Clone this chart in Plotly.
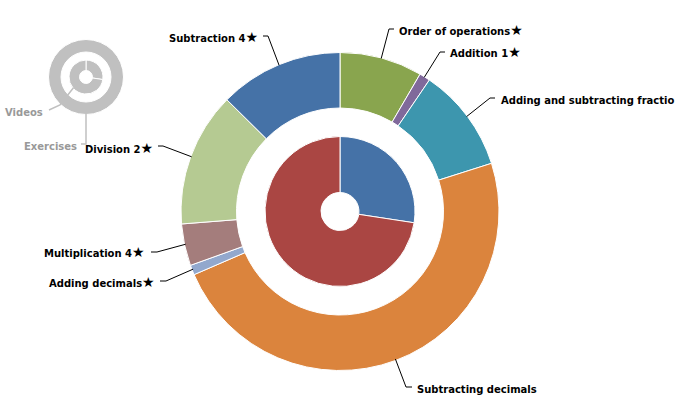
import math
import plotly.graph_objects as go

W, H = 682, 412

# outer ring, clockwise from the top
topics = ['Order of operations★', 'Addition 1★', 'Adding and subtracting fractio', 'Subtracting decimals',
          'Adding decimals★', 'Multiplication 4★', 'Division 2★', 'Subtraction 4★']
topic_values = [8.4, 1.1, 10.6, 48.4, 1.0, 4.25, 13.65, 12.6]
topic_colors = ['#89A54E', '#80699B', '#3D96AE', '#DB843D', '#92A8CD', '#A47D7C', '#B5CA92', '#4572A7']

# inner ring
kinds = ['Exercises', 'Videos']
kind_values = [27.4, 72.6]
kind_colors = ['#4572A7', '#AA4643']

# small grey copy
mini_outer_labels = ['Exercises']
mini_outer_values = [100]
GREY = '#C0C0C0'

# label placement: text x, text y, anchor, elbow x, elbow y, stub end x
label_pos = [
    (397, 30, 'left', 389, 29, 394),
    (448, 52, 'left', 440, 52, 445),
    (499, 100, 'left', 490, 98, 495),
    (415, 389, 'left', 406, 387, 412),
    (157, 282, 'right', 166, 281, 160),
    (147, 252, 'right', 157, 252, 151),
    (155, 148, 'right', 163, 146, 158),
    (260, 37, 'right', 268, 36, 263),
]


def px(x):
    return x / W


def py(y):
    return 1 - y / H


def pie(labels, values, colors, cx, cy, r, hole):
    return go.Pie(labels=labels, values=values, sort=False, direction='clockwise', rotation=0,
                  hole=hole, textinfo='none', showlegend=False,
                  marker=dict(colors=colors, line=dict(color='white', width=1)),
                  domain=dict(x=[px(cx - r), px(cx + r)], y=[py(cy + r), py(cy - r)]))


def mid_point(values, i, cx, cy, r):
    a = math.radians((sum(values[:i]) + values[i] / 2) / sum(values) * 360)
    return cx + r * math.sin(a), cy - r * math.cos(a)


def leader(points, color, width):
    path = 'M ' + ' L '.join(f'{px(x)} {py(y)}' for x, y in points)
    return dict(type='path', path=path, xref='paper', yref='paper', line=dict(color=color, width=width))


fig = go.Figure()
fig.add_trace(pie(topics, topic_values, topic_colors, 340, 211.5, 159, 103.5 / 159))
fig.add_trace(pie(kinds, kind_values, kind_colors, 340, 211.5, 75, 19 / 75))
fig.add_trace(pie(mini_outer_labels, mini_outer_values, [GREY], 86, 77, 37.5, 25 / 37.5))
fig.add_trace(pie(kinds, kind_values, [GREY, GREY], 86, 77, 17, 6.5 / 17))

shapes = []
annotations = []
for i, name in enumerate(topics):
    tx, ty, anchor, ex, ey, sx = label_pos[i]
    start = mid_point(topic_values, i, 340, 211, 158)
    shapes.append(leader([start, (ex, ey), (sx, ey)], '#000000', 1))
    # the star is drawn bigger than the text in the reference
    text = name.replace('★', '<span style="font-size:14px">★</span>')
    annotations.append(dict(text=text, x=px(tx), y=py(ty), xref='paper', yref='paper', xanchor=anchor,
                            yanchor='middle', showarrow=False,
                            font=dict(family='DejaVu Sans', size=10, color='black', weight='bold')))

# grey labels on the small chart
start = mid_point(kind_values, 1, 86, 77, 16.5)
shapes.append(leader([start, (60, 105), (49, 110)], GREY, 1.5))
shapes.append(leader([mid_point(mini_outer_values, 0, 86, 77, 37), (86, 144), (81, 144)], GREY, 1.5))
for name, tx, ty in [('Videos', 3, 112), ('Exercises', 22, 146)]:
    annotations.append(dict(text=name, x=px(tx), y=py(ty), xref='paper', yref='paper', xanchor='left',
                            yanchor='middle', showarrow=False,
                            font=dict(family='DejaVu Sans', size=10, color='#999999', weight='bold')))

fig.update_layout(width=W, height=H, margin=dict(l=0, r=0, t=0, b=0), paper_bgcolor='white',
                  shapes=shapes, annotations=annotations)
# the page's default body margin would push the chart 8px down and right
fig.write_html("out.html", config=dict(displayModeBar=False), post_script="document.body.style.margin='0';")
